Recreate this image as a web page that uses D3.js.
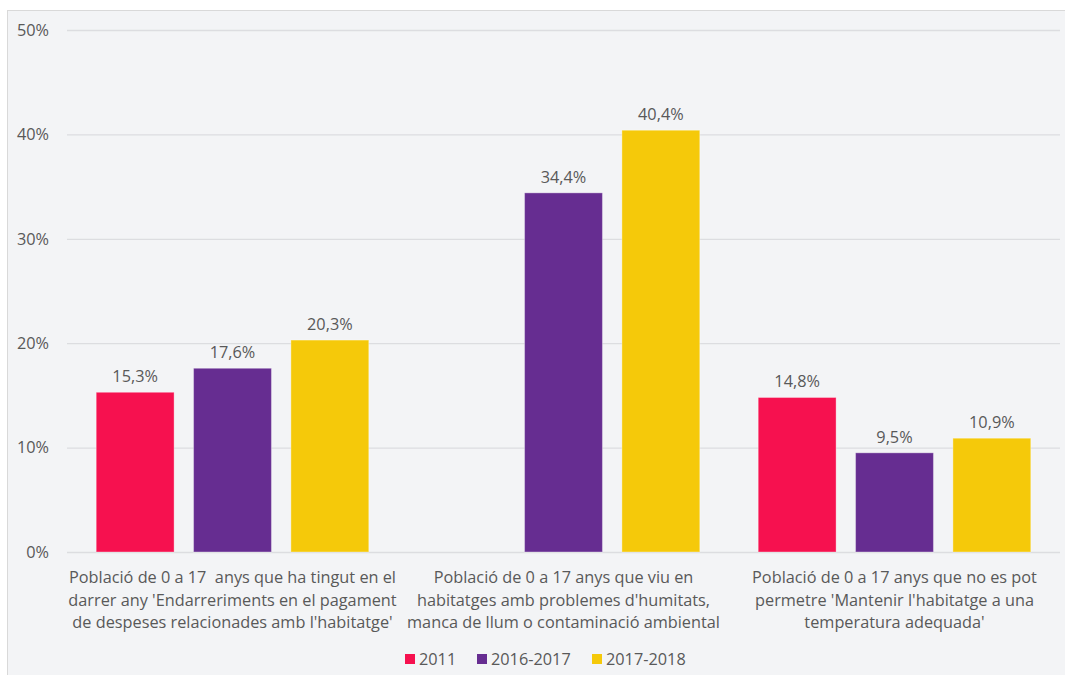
<!DOCTYPE html>
<html>
<head>
<meta charset="utf-8">
<script src="https://cdn.jsdelivr.net/npm/d3@7"></script>
<style>
  html, body { margin: 0; padding: 0; background: #ffffff; }
  svg { display: block; font-family: "Open Sans", "Segoe UI", sans-serif; }
</style>
</head>
<body>
<svg id="chart" width="1065" height="675"></svg>
<script>
const categories = [
  ["Població de 0 a 17  anys que ha tingut en el", "darrer any 'Endarreriments en el pagament", "de despeses relacionades amb l'habitatge'"],
  ["Població de 0 a 17 anys que viu en", "habitatges amb problemes d'humitats,", "manca de llum o contaminació ambiental"],
  ["Població de 0 a 17 anys que no es pot", "permetre 'Mantenir l'habitatge a una", "temperatura adequada'"]
];
const seriesNames = ["2011", "2016-2017", "2017-2018"];
const values2011 = [15.3, null, 14.8];
const values2016 = [17.6, 34.4, 9.5];
const values2017 = [20.3, 40.4, 10.9];
const yTicks = [0, 10, 20, 30, 40, 50];
const colors = ["#f6114f", "#662d91", "#f5c90a"];

const seriesValues = [values2011, values2016, values2017];
const FS = "16.3px";

const svg = d3.select("#chart");
const W = 1065, H = 675;

// panel background
svg.append("rect").attr("x", 7.5).attr("y", 10.5).attr("width", W).attr("height", H)
  .attr("fill", "#f3f4f6").attr("stroke", "#d9d9d9").attr("stroke-width", 1);

const x0 = d3.scaleBand().domain(d3.range(categories.length)).range([67, 1060]).paddingInner(0).paddingOuter(0);
const x1 = d3.scaleBand().domain(d3.range(seriesNames.length)).range([0, x0.bandwidth()]).paddingInner(0.2).paddingOuter(0.3);
const y = d3.scaleLinear().domain([0, 50]).range([552, 30]);

// gridlines
const grid = svg.append("g")
  .attr("transform", "translate(67,0)")
  .call(d3.axisLeft(y).tickValues(yTicks).tickSize(-(1060 - 67)).tickFormat(""));
grid.select(".domain").remove();
grid.selectAll("line").attr("stroke", "#dcdde0").attr("stroke-width", 1.3);

// y labels
const yAxis = svg.append("g")
  .attr("transform", "translate(49,0)")
  .call(d3.axisLeft(y).tickValues(yTicks).tickSize(0).tickPadding(0).tickFormat(d => d + "%"));
yAxis.select(".domain").remove();
yAxis.selectAll("text").attr("fill", "#595959").attr("font-size", FS)
  .attr("font-family", "'Open Sans', sans-serif");

// bars
const fmt = v => d3.format(".1f")(v).replace(".", ",") + "%";
categories.forEach((cat, ci) => {
  const g = svg.append("g").attr("transform", `translate(${x0(ci)},0)`);
  seriesValues.forEach((vals, si) => {
    const v = vals[ci];
    if (v == null) return;
    g.append("rect")
      .attr("x", x1(si)).attr("width", x1.bandwidth())
      .attr("y", y(v)).attr("height", y(0) - y(v))
      .attr("fill", colors[si]).attr("stroke", "#ffffff").attr("stroke-opacity", 0.35).attr("stroke-width", 1);
    g.append("text")
      .attr("x", x1(si) + x1.bandwidth() / 2).attr("y", y(v) - 10)
      .attr("text-anchor", "middle").attr("fill", "#595959").attr("font-size", FS)
      .text(fmt(v));
  });
  // category label
  const t = g.append("text").attr("text-anchor", "middle").attr("fill", "#595959")
    .attr("font-size", FS).style("white-space", "pre");
  cat.forEach((line, li) => {
    t.append("tspan").attr("x", x0.bandwidth() / 2).attr("y", 583 + li * 22.5).text(line);
  });
});

// legend
const legendItems = [{ x: 405 }, { x: 477 }, { x: 592 }];
seriesNames.forEach((name, i) => {
  const lg = svg.append("g").attr("transform", `translate(${legendItems[i].x},654)`);
  lg.append("rect").attr("width", 10).attr("height", 10).attr("fill", colors[i]);
  lg.append("text").attr("x", 14).attr("y", 10.5).attr("fill", "#595959").attr("font-size", FS).text(name);
});
</script>
</body>
</html>
